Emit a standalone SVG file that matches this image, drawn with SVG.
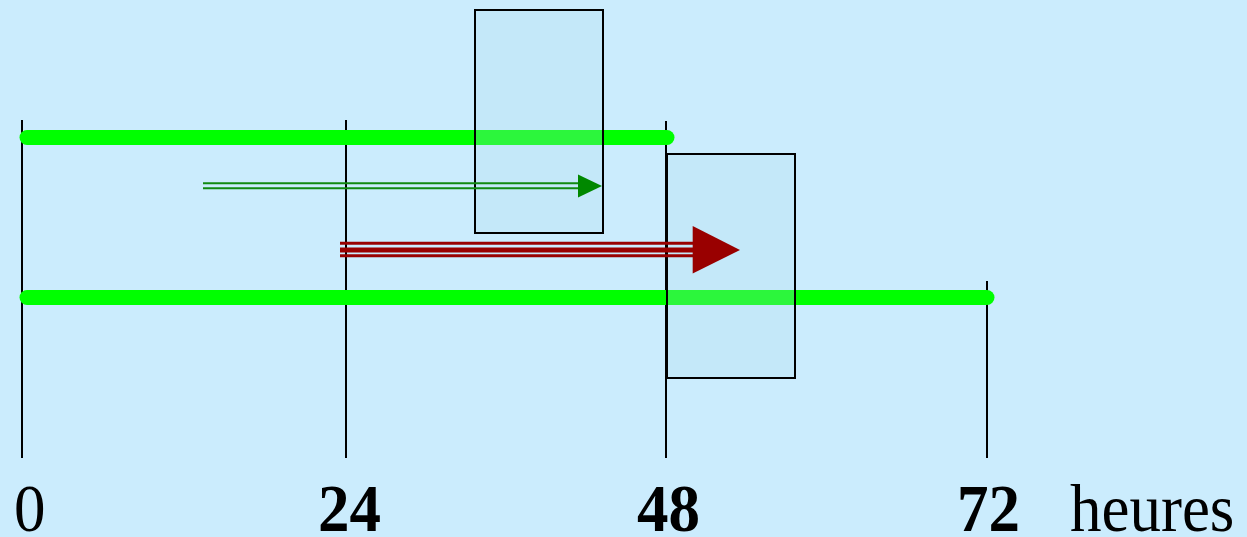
<svg xmlns="http://www.w3.org/2000/svg" width="1247" height="537" viewBox="0 0 1247 537">
<style>
.tick{stroke:#000;stroke-width:2}
.bar{stroke:#00ff00;stroke-width:15;stroke-linecap:round;fill:none}
.box{fill:#b0dcee;fill-opacity:0.25;stroke:#000;stroke-width:2}
.lbl{font-family:"Liberation Serif","Times New Roman",serif;font-size:63px;fill:#000}
.num{font-weight:bold}
</style>
<rect width="1247" height="537" fill="#cbecfd"/>
<g id="axis">
<line class="tick" x1="22" y1="120" x2="22" y2="458"/>
<line class="tick" x1="346" y1="120" x2="346" y2="458"/>
<line class="tick" x1="666" y1="121" x2="666" y2="458"/>
<line class="tick" x1="987" y1="281" x2="987" y2="458"/>
</g>
<g id="bars">
<line class="bar" x1="27" y1="137.5" x2="667" y2="137.5"/>
<line class="bar" x1="27" y1="297.5" x2="987" y2="297.5"/>
</g>
<g id="box1"><rect class="box" x="475" y="10" width="128" height="223"/></g>
<g id="box2"><rect class="box" x="667" y="154" width="128" height="224"/></g>
<g id="connectors">
<g id="green-arrow">
<line x1="203" y1="183.3" x2="580" y2="183.3" stroke="#118a11" stroke-width="2"/>
<line x1="203" y1="188.3" x2="580" y2="188.3" stroke="#118a11" stroke-width="2"/>
<polygon points="578,174.5 602,186 578,197.5" fill="#008800"/>
</g>
<g id="red-arrow">
<line x1="340" y1="243.3" x2="695" y2="243.3" stroke="#990000" stroke-width="3"/>
<line x1="340" y1="250" x2="695" y2="250" stroke="#990000" stroke-width="5"/>
<line x1="340" y1="255.8" x2="695" y2="255.8" stroke="#990000" stroke-width="3"/>
<polygon points="692.7,226 740,250 692.7,273.5" fill="#990000"/>
</g>
</g>
<g id="labels" transform="translate(0,531) scale(1,1.09)">
<text class="lbl" x="14" y="0">0</text>
<text class="lbl num" x="318" y="0">24</text>
<text class="lbl num" x="637" y="0">48</text>
<text class="lbl num" x="957" y="0">72</text>
<text class="lbl" x="1070" y="0">heures</text>
</g>
</svg>
